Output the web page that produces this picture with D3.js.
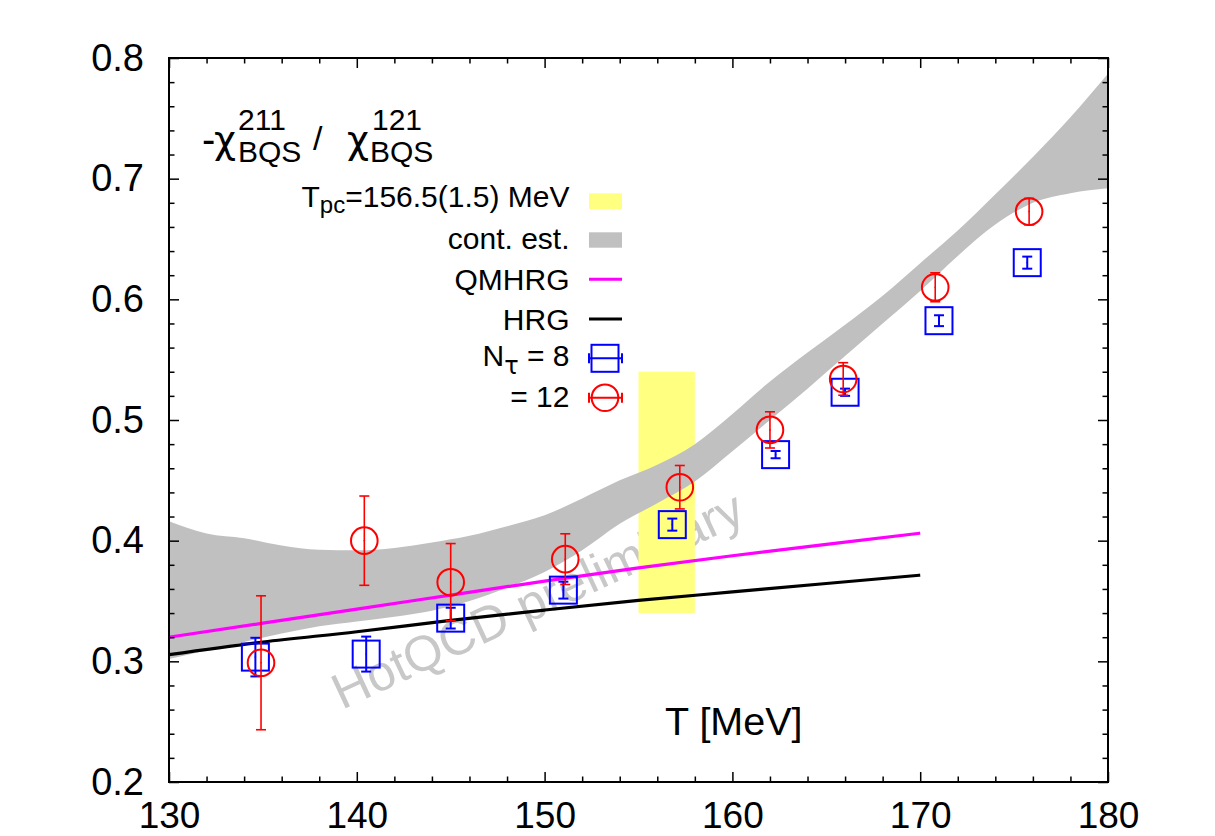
<!DOCTYPE html>
<html>
<head>
<meta charset="utf-8">
<script src="https://cdn.jsdelivr.net/npm/d3@7"></script>
<style>
  body { margin: 0; background: #fff; }
  svg { display: block; font-family: "Liberation Sans", Arial, Helvetica, sans-serif; }
</style>
</head>
<body>
<svg id="chart" width="1215" height="836"></svg>
<script>
// values
const xTicks = [130, 140, 150, 160, 170, 180];
const yTicks = [0.2, 0.3, 0.4, 0.5, 0.6, 0.7, 0.8];

// N_tau = 8 (blue squares)
const tempN8 = [134.6, 140.5, 145.0, 151.0, 156.8, 162.3, 166.0, 171.0, 175.7];
const chiN8 = [0.3035, 0.306, 0.3358, 0.359, 0.4133, 0.4713, 0.523, 0.5823, 0.6304];
const errN8 = [0.016, 0.0145, 0.0086, 0.007, 0.005, 0.003, 0.003, 0.0045, 0.005];

// N_tau = 12 (red circles)
const tempN12 = [134.9, 140.4, 145.0, 151.1, 157.2, 162.0, 165.9, 170.8, 175.8];
const chiN12 = [0.2988, 0.400, 0.3656, 0.3847, 0.4443, 0.4918, 0.534, 0.610, 0.6727];
const errN12 = [0.0555, 0.037, 0.032, 0.021, 0.018, 0.015, 0.0135, 0.012, 0.011];

// HRG / QMHRG curves
const hrgT = [130, 135, 140, 145, 150, 155, 160, 165, 170];
const hrg = [0.3055, 0.316, 0.3245, 0.334, 0.3425, 0.3505, 0.3575, 0.3645, 0.3714];
const qmhrg = [0.320, 0.3316, 0.3433, 0.3549, 0.3665, 0.3774, 0.3875, 0.397, 0.4062];

// continuum estimate band
const bandT = [130, 132, 134, 136, 138, 140, 142, 144, 146, 148, 150, 152, 154,
  156, 158, 160, 162, 164, 166, 168, 170, 172, 174, 176, 178, 180];
const bandHigh = [0.416, 0.406, 0.402, 0.396, 0.3925, 0.392, 0.394, 0.3985, 0.404, 0.412, 0.421, 0.435, 0.450,
  0.463, 0.480, 0.505, 0.532, 0.556, 0.579, 0.603, 0.630, 0.657, 0.687, 0.718, 0.751, 0.787];
const bandLow = [0.302, 0.309, 0.316, 0.323, 0.329, 0.333, 0.337, 0.342, 0.350, 0.361, 0.374, 0.392, 0.414,
  0.431, 0.449, 0.474, 0.500, 0.526, 0.553, 0.580, 0.607, 0.636, 0.662, 0.680, 0.688, 0.692];

// T_pc = 156.5(1.5) MeV
const tpcRange = [155, 158];
const tpcY = [0.34, 0.54];

const margin = { top: 58, left: 169 };
const width = 939;
const height = 724;

const svg = d3.select("#chart");
const g = svg.append("g").attr("transform", `translate(${margin.left},${margin.top})`);

const x = d3.scaleLinear().domain([130, 180]).range([0, width]);
const y = d3.scaleLinear().domain([0.2, 0.8]).range([height, 0]);

svg.append("defs").append("clipPath").attr("id", "plot-clip")
  .append("rect").attr("width", width).attr("height", height);

const plot = g.append("g").attr("clip-path", "url(#plot-clip)");

// watermark sits under everything
plot.append("text")
  .attr("transform", `translate(${342 - margin.left},${710 - margin.top}) rotate(-25)`)
  .attr("font-size", 50)
  .attr("fill", "#c8c8c8")
  .text("HotQCD preliminary");

// yellow T_pc band
plot.append("rect")
  .attr("x", x(tpcRange[0]))
  .attr("y", y(tpcY[1]))
  .attr("width", x(tpcRange[1]) - x(tpcRange[0]))
  .attr("height", y(tpcY[0]) - y(tpcY[1]))
  .attr("fill", "#ffff80");

// grey continuum band
const band = bandT.map((t, i) => ({ t: t, lo: bandLow[i], hi: bandHigh[i] }));
plot.append("path")
  .datum(band)
  .attr("fill", "#c0c0c0")
  .attr("d", d3.area()
    .curve(d3.curveMonotoneX)
    .x(d => x(d.t))
    .y0(d => y(d.lo))
    .y1(d => y(d.hi)));

// model lines
const line = d3.line().curve(d3.curveMonotoneX).x(d => x(d[0])).y(d => y(d[1]));
plot.append("path")
  .datum(hrgT.map((t, i) => [t, qmhrg[i]]))
  .attr("fill", "none").attr("stroke", "#ff00ff").attr("stroke-width", 3.2)
  .attr("d", line);
plot.append("path")
  .datum(hrgT.map((t, i) => [t, hrg[i]]))
  .attr("fill", "none").attr("stroke", "#000").attr("stroke-width", 3.2)
  .attr("d", line);

// error bars + symbols
function drawSeries(temps, vals, errs, color, shape, sw) {
  const pts = temps.map((t, i) => ({ t: t, v: vals[i], e: errs[i] }));
  const grp = plot.append("g").attr("stroke", color).attr("fill", "none");
  const pt = grp.selectAll("g").data(pts).enter().append("g");
  pt.append("line")
    .attr("x1", d => x(d.t)).attr("x2", d => x(d.t))
    .attr("y1", d => y(d.v - d.e)).attr("y2", d => y(d.v + d.e))
    .attr("stroke-width", sw);
  [-1, 1].forEach(s => {
    pt.append("line")
      .attr("x1", d => x(d.t) - 5).attr("x2", d => x(d.t) + 5)
      .attr("y1", d => y(d.v + s * d.e)).attr("y2", d => y(d.v + s * d.e))
      .attr("stroke-width", sw);
  });
  if (shape === "square") {
    pt.append("rect")
      .attr("x", d => x(d.t) - 13.5).attr("y", d => y(d.v) - 13.5)
      .attr("width", 27).attr("height", 27)
      .attr("stroke-width", 2);
  } else {
    pt.append("circle")
      .attr("cx", d => x(d.t)).attr("cy", d => y(d.v)).attr("r", 13.3)
      .attr("stroke-width", 2);
  }
  pt.append("circle")
    .attr("cx", d => x(d.t)).attr("cy", d => y(d.v)).attr("r", 0.8)
    .attr("fill", color).attr("stroke", "none");
}
drawSeries(tempN8, chiN8, errN8, "#0000ff", "square", 2);
drawSeries(tempN12, chiN12, errN12, "#ff0000", "circle", 1.6);

// axes, ticks on all four sides pointing inward
const xMinor = d3.range(130, 181, 2).filter(v => v % 10 !== 0);
const yMinor = d3.range(0, 31).map(i => 0.2 + i * 0.02).filter((v, i) => i % 5 !== 0);

function styleAxis(sel) {
  sel.select(".domain").remove();
  sel.selectAll(".tick line").attr("stroke", "#000").attr("stroke-width", 1.5);
  sel.selectAll("text").attr("font-size", 38).attr("fill", "#000")
    .attr("font-family", "'Liberation Sans', Arial, Helvetica, sans-serif");
}

g.append("g").attr("transform", `translate(0,${height})`)
  .call(d3.axisBottom(x).tickValues(xTicks).tickSize(-10).tickSizeOuter(0).tickPadding(20).tickFormat(d3.format("d")))
  .call(styleAxis)
  .call(a => a.selectAll("text").attr("font-size", 37));
g.append("g").attr("transform", `translate(0,${height})`)
  .call(d3.axisBottom(x).tickValues(xMinor).tickSize(-5.5).tickSizeOuter(0).tickFormat(""))
  .call(styleAxis);
g.append("g")
  .call(d3.axisTop(x).tickValues(xTicks).tickSize(-10).tickSizeOuter(0).tickFormat(""))
  .call(styleAxis);
g.append("g")
  .call(d3.axisTop(x).tickValues(xMinor).tickSize(-5.5).tickSizeOuter(0).tickFormat(""))
  .call(styleAxis);

g.append("g")
  .call(d3.axisLeft(y).tickValues(yTicks).tickSize(-10).tickSizeOuter(0).tickPadding(25).tickFormat(d3.format(".1f")))
  .call(styleAxis);
g.append("g")
  .call(d3.axisLeft(y).tickValues(yMinor).tickSize(-5.5).tickSizeOuter(0).tickFormat(""))
  .call(styleAxis);
g.append("g").attr("transform", `translate(${width},0)`)
  .call(d3.axisRight(y).tickValues(yTicks).tickSize(-10).tickSizeOuter(0).tickFormat(""))
  .call(styleAxis);
g.append("g").attr("transform", `translate(${width},0)`)
  .call(d3.axisRight(y).tickValues(yMinor).tickSize(-5.5).tickSizeOuter(0).tickFormat(""))
  .call(styleAxis);

// frame
g.append("rect")
  .attr("width", width).attr("height", height)
  .attr("fill", "none").attr("stroke", "#000").attr("stroke-width", 2);

// x label
svg.append("text")
  .attr("x", 665).attr("y", 735)
  .attr("font-size", 39.5)
  .text("T [MeV]");

// title: -chi^211_BQS / chi^121_BQS
const title = svg.append("g").attr("fill", "#000");
title.append("text").attr("x", 202).attr("y", 153).attr("font-size", 40).text("-");
title.append("text").attr("x", 214).attr("y", 153).attr("font-size", 38)
  .attr("font-family", "'DejaVu Sans', sans-serif").text("χ");
title.append("text").attr("x", 238).attr("y", 130).attr("font-size", 30).text("211");
title.append("text").attr("x", 238).attr("y", 162).attr("font-size", 30).text("BQS");
title.append("text").attr("x", 313).attr("y", 150).attr("font-size", 34).text("/");
title.append("text").attr("x", 347).attr("y", 153).attr("font-size", 38)
  .attr("font-family", "'DejaVu Sans', sans-serif").text("χ");
title.append("text").attr("x", 372).attr("y", 130).attr("font-size", 30).text("121");
title.append("text").attr("x", 370).attr("y", 162).attr("font-size", 30).text("BQS");

// legend
const legend = svg.append("g").attr("font-size", 30);
const lx = 569.5, sx0 = 589, sx1 = 622, sxc = 605;

const t1 = legend.append("text").attr("x", lx).attr("y", 207).attr("text-anchor", "end");
t1.append("tspan").text("T");
t1.append("tspan").attr("font-size", 24).attr("dy", 6).text("pc");
t1.append("tspan").attr("dy", -6).text("=156.5(1.5) MeV");
legend.append("rect").attr("x", sx0).attr("y", 193.3).attr("width", sx1 - sx0).attr("height", 15.7).attr("fill", "#ffff80");

legend.append("text").attr("x", lx).attr("y", 249.3).attr("text-anchor", "end").text("cont. est.");
legend.append("rect").attr("x", sx0).attr("y", 232.3).attr("width", sx1 - sx0).attr("height", 15.4).attr("fill", "#c0c0c0");

legend.append("text").attr("x", lx).attr("y", 290).attr("text-anchor", "end").text("QMHRG");
legend.append("line").attr("x1", sx0).attr("x2", sx1).attr("y1", 279.3).attr("y2", 279.3)
  .attr("stroke", "#ff00ff").attr("stroke-width", 3);

legend.append("text").attr("x", lx).attr("y", 329.5).attr("text-anchor", "end").text("HRG");
legend.append("line").attr("x1", sx0).attr("x2", sx1).attr("y1", 319).attr("y2", 319)
  .attr("stroke", "#000").attr("stroke-width", 3);

const t5 = legend.append("text").attr("x", lx).attr("y", 366).attr("text-anchor", "end");
t5.append("tspan").text("N");
t5.append("tspan").attr("font-size", 24).attr("dy", 8)
  .attr("font-family", "'DejaVu Sans', sans-serif").text("τ");
t5.append("tspan").attr("dy", -8).text(" = 8");

legend.append("text").attr("x", lx).attr("y", 407).attr("text-anchor", "end").text("= 12");

function legendMarker(cy, color, shape) {
  const m = legend.append("g").attr("stroke", color).attr("fill", "none").attr("stroke-width", 2);
  m.append("line").attr("x1", sx0).attr("x2", sx1).attr("y1", cy).attr("y2", cy);
  m.append("line").attr("x1", sx0).attr("x2", sx0).attr("y1", cy - 5).attr("y2", cy + 5);
  m.append("line").attr("x1", sx1).attr("x2", sx1).attr("y1", cy - 5).attr("y2", cy + 5);
  if (shape === "square") {
    m.append("rect").attr("x", sxc - 13.5).attr("y", cy - 13.5).attr("width", 27).attr("height", 27);
  } else {
    m.append("circle").attr("cx", sxc).attr("cy", cy).attr("r", 13.3);
  }
}
legendMarker(358.3, "#0000ff", "square");
legendMarker(397.7, "#ff0000", "circle");
</script>
</body>
</html>
